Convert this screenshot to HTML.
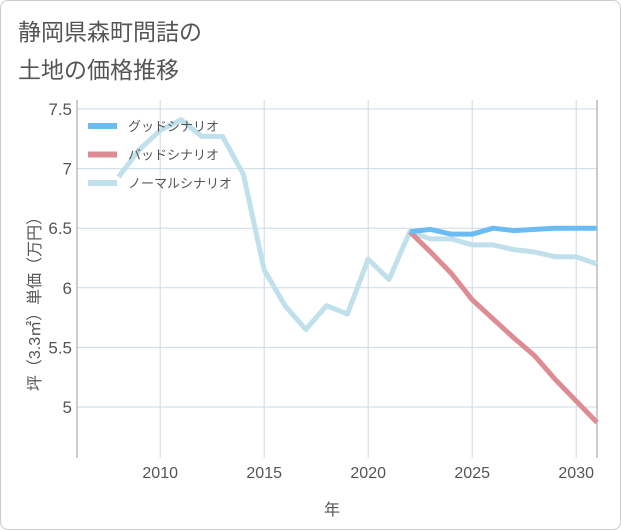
<!DOCTYPE html>
<html><head><meta charset="utf-8">
<style>
body{margin:0;background:#fff;}
#wrap{position:relative;width:619px;height:528px;border:1px solid #ccc;border-radius:8px;overflow:hidden;background:#fff;font-family:"Liberation Sans","Noto Sans CJK JP",sans-serif;}
</style></head><body>
<div id="wrap">
<svg id="chart" width="621" height="530" style="position:absolute;left:-1px;top:-1px"></svg>
</div>
<script>
const years=[2008,2009,2010,2011,2012,2013,2014,2015,2016,2017,2018,2019,2020,2021,2022,2023,2024,2025,2026,2027,2028,2029,2030,2031];
const normalVals=[6.93,7.16,7.32,7.41,7.27,7.27,6.95,6.15,5.85,5.65,5.85,5.78,6.24,6.07,6.47,6.41,6.41,6.36,6.36,6.32,6.30,6.26,6.26,6.20];
const goodYears=[2022,2023,2024,2025,2026,2027,2028,2029,2030,2031];
const goodVals=[6.47,6.49,6.45,6.45,6.50,6.48,6.49,6.50,6.50,6.50];
const badVals=[6.47,6.30,6.12,5.90,5.74,5.58,5.43,5.23,5.05,4.87];
const xTicks=[2010,2015,2020,2025,2030];
const yTicks=[5,5.5,6,6.5,7,7.5];
const yTickLabels=["5","5.5","6","6.5","7","7.5"];
const legendLabels=["グッドシナリオ","バッドシナリオ","ノーマルシナリオ"];

const NS="http://www.w3.org/2000/svg";
const svg=document.getElementById('chart');
const L=77,R=597,T=100,B=458;
const X=v=>L+(v-2006)*(R-L)/(2031-2006);
const Y=v=>407-(v-5)*119.2;
function mk(tag,attrs,parent){const e=document.createElementNS(NS,tag);for(const k in attrs)e.setAttribute(k,attrs[k]);(parent||svg).appendChild(e);return e;}

let t=mk('text',{x:18,y:40,'font-size':23,fill:'#555'});t.textContent='静岡県森町問詰の';


t=mk('text',{x:18,y:78,'font-size':23,fill:'#555'});t.textContent='土地の価格推移';



xTicks.forEach(v=>{
  const l=mk('line',{x1:X(v),x2:X(v),y1:T,y2:B,stroke:'#c9dbe8','stroke-width':1});
  
  
  const tx=mk('text',{x:X(v),y:478,'font-size':16,fill:'#555','text-anchor':'middle'});tx.textContent=v;
  
  
});
yTicks.forEach((v,i)=>{
  const l=mk('line',{x1:L,x2:R,y1:Y(v),y2:Y(v),stroke:'#c9dbe8','stroke-width':1});
  
  
  const tx=mk('text',{x:72,y:Y(v)+6,'font-size':17,fill:'#555','text-anchor':'end'});tx.textContent=yTickLabels[i];
  
  
});
let ax=mk('line',{x1:L,x2:L,y1:T,y2:B,stroke:'#999'});


ax=mk('line',{x1:R,x2:R,y1:T,y2:B,stroke:'#999'});



function line(xs,vs,color,name){
  const p=mk('polyline',{points:xs.map((x,i)=>X(x)+','+Y(vs[i])).join(' '),fill:'none',stroke:color,'stroke-width':5,'stroke-linejoin':'round'});
  
  
}
line(years,normalVals,'#c0e0ec','normal-scenario-line');
line(goodYears,badVals,'#de8c93','bad-scenario-line');
line(goodYears,goodVals,'#6bbcf3','good-scenario-line');

const lc=['#6bbcf3','#de8c93','#c0e0ec'];
legendLabels.forEach((s,i)=>{
  const y=126+i*28.5;
  const r=mk('rect',{x:88,y:y-3,width:29,height:6,fill:lc[i]});
  
  
  const tx=mk('text',{x:128,y:y+5,'font-size':13,fill:'#555'});tx.textContent=s;
  
  
});

t=mk('text',{x:332,y:515,'font-size':16,fill:'#555','text-anchor':'middle'});t.textContent='年';


t=mk('text',{x:0,y:0,'font-size':16,fill:'#555','text-anchor':'middle',transform:'translate(40,300) rotate(-90)'});t.textContent='坪（3.3㎡）単価（万円）';


</script>
</body></html>
